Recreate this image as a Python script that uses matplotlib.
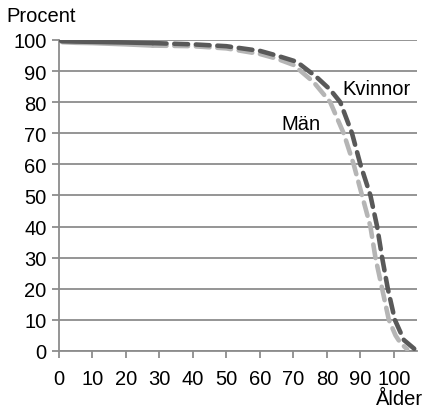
import matplotlib
matplotlib.use("Agg")
import matplotlib.pyplot as plt
import numpy as np

plt.rcParams["font.family"] = ["Liberation Sans", "DejaVu Sans"]

# survival curve, percent still alive by age
ages_women = [0, 1, 5, 10, 20, 28, 40, 50, 60, 65, 71, 77, 81, 84, 87.5, 90, 93, 95, 96.5, 98.2, 100.3, 103, 106.3]
women = [100, 99.6, 99.5, 99.4, 99.2, 99.0, 98.6, 98.0, 96.5, 95.0, 93.0, 88.0, 84.0, 80.0, 70.0, 60.0, 50.0, 40.0, 30.0, 20.0, 10.0, 3.5, 0.5]
ages_men = [0, 1, 5, 10, 20, 28, 40, 50, 60, 65, 70, 76, 81, 85, 88, 90.5, 93, 94.5, 96.5, 98.5, 100.5, 102, 104]
men = [100, 99.3, 99.1, 99.0, 98.6, 98.2, 98.0, 97.3, 95.5, 94.0, 92.0, 86.5, 80.0, 70.0, 60.0, 50.0, 40.0, 30.0, 20.0, 10.0, 5.0, 2.5, 0.5]

split_age = 28
dark = "#595959"
light = "#b5b5b5"
grid = "#8c8c8c"

fig = plt.figure(figsize=(4.23, 4.14), dpi=100)
ax = fig.add_axes([0.1395, 0.150, 0.847, 0.751])

for a, v, c in [(ages_men, men, light), (ages_women, women, dark)]:
    a = np.array(a)
    v = np.array(v)
    i = int(np.searchsorted(a, split_age)) + 1
    ax.plot(a[:i], v[:i], color=c, lw=3.3, solid_capstyle="round", zorder=3)
    ax.plot(a[i - 1:], v[i - 1:], color=c, lw=3.3, dashes=(3.0, 1.7),
            dash_capstyle="round", zorder=3)

ax.set_xlim(0, 107)
ax.set_ylim(0, 100)
ax.set_xticks(np.arange(0, 101, 10))
ax.set_yticks(np.arange(0, 101, 10))
ax.yaxis.grid(True, color=grid, lw=1.3)
ax.set_axisbelow(True)
for s in ["top", "right"]:
    ax.spines[s].set_visible(False)
for s in ["left", "bottom"]:
    ax.spines[s].set_color(grid)
    ax.spines[s].set_linewidth(1.3)
ax.tick_params(colors=grid, width=1.3, length=5, labelsize=14.5, labelcolor="black")
ax.tick_params(axis="x", pad=8)
ax.tick_params(axis="y", pad=4)

ax.text(84.5, 84.5, "Kvinnor", fontsize=14.5, ha="left", va="center")
ax.text(66.5, 73, "Män", fontsize=14.5, ha="left", va="center")
fig.text(6 / 423, 1 - 17 / 414, "Procent", fontsize=14.5, ha="left", va="center")
fig.text(1.0, 1 - 400 / 414, "Ålder", fontsize=14.5, ha="right", va="center")

fig.savefig("out.png", dpi=100)
